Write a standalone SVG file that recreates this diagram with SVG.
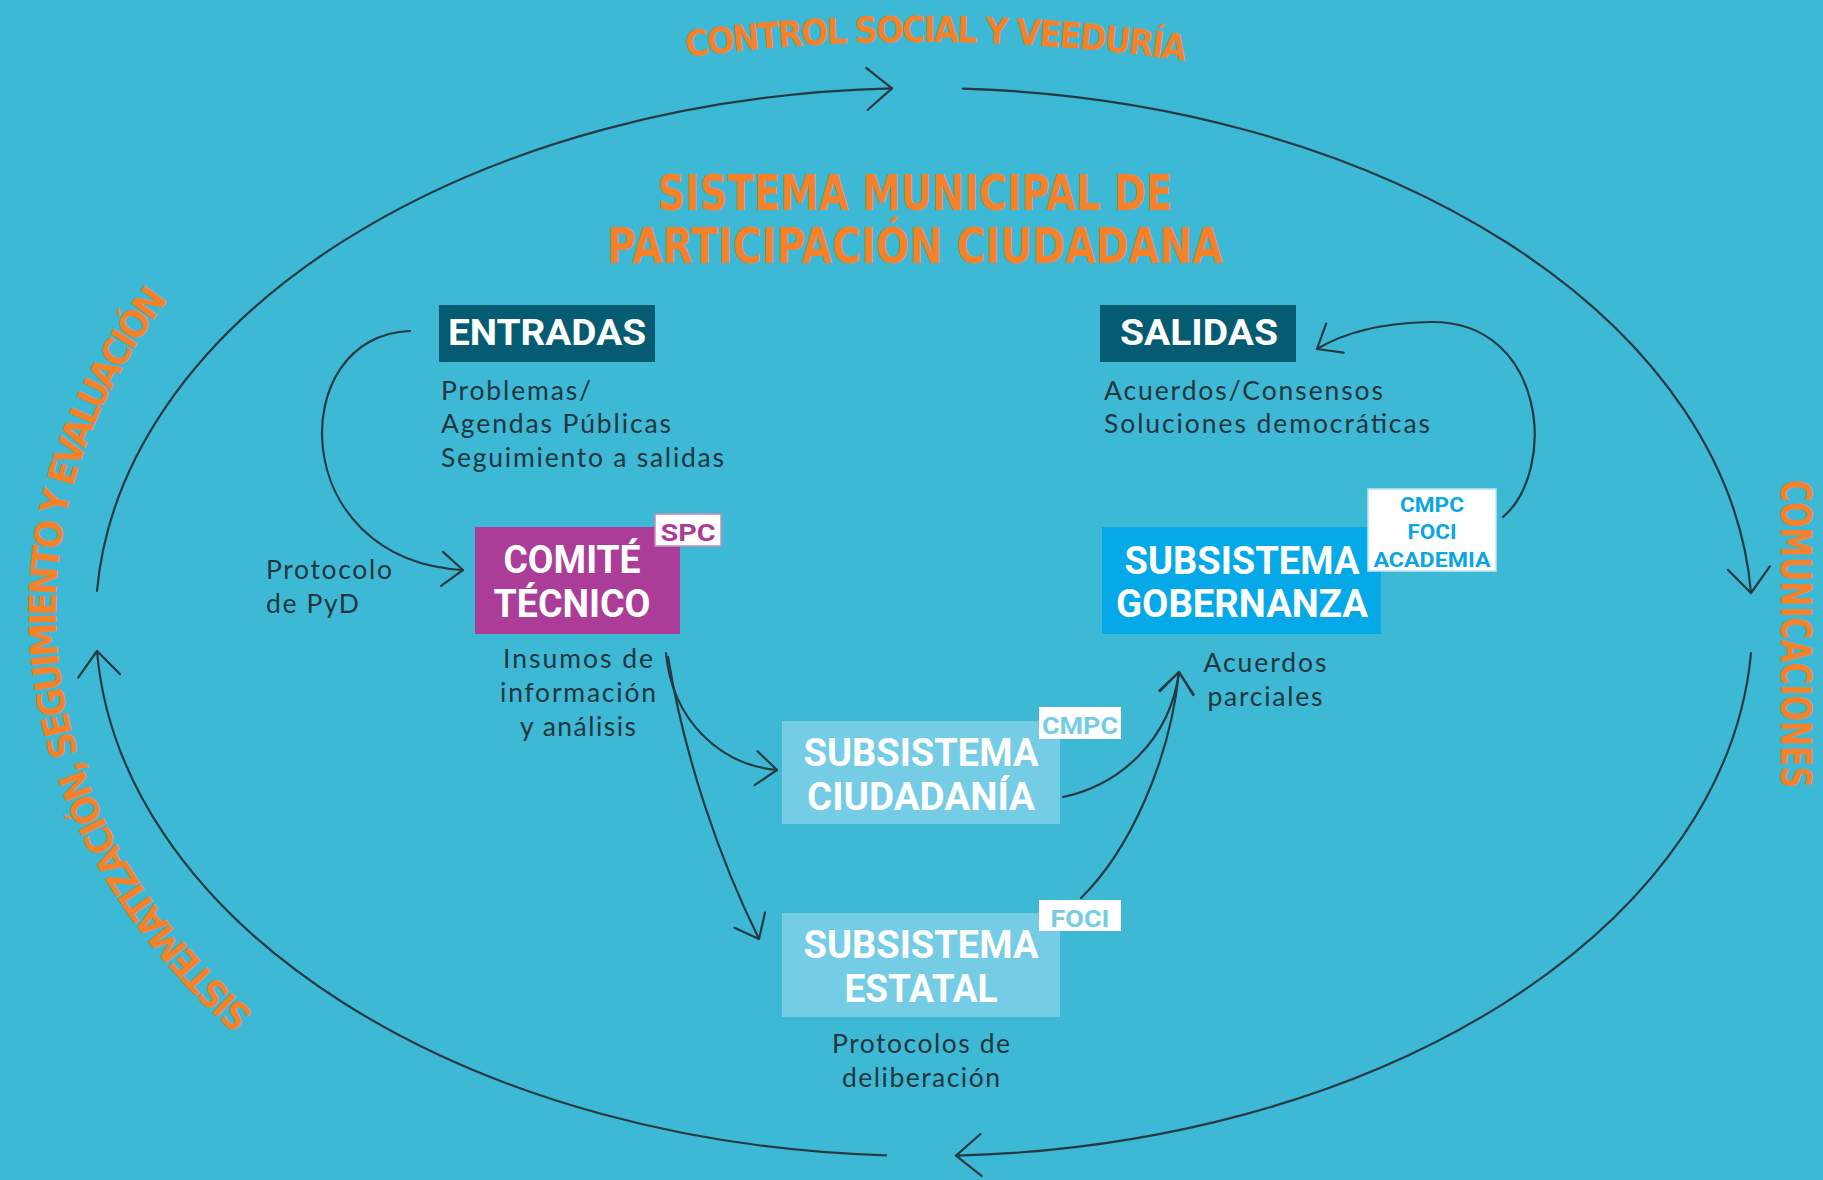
<svg xmlns="http://www.w3.org/2000/svg" width="1823" height="1180" viewBox="0 0 1823 1180">
<style>
.bg{fill:#3DB8D5}
.ln{fill:none;stroke:#263a42;stroke-width:2.2;stroke-linecap:round}
.orange{fill:#F5822A;font-family:"Liberation Sans Narrow","DejaVu Sans Condensed",Roboto,"Liberation Sans",sans-serif;font-weight:700}
.lbl{fill:#ffffff;font-family:Roboto,"Liberation Sans",sans-serif;font-weight:700;text-anchor:middle}
.body{fill:#22363e;font-family:Lato,"Open Sans","Liberation Sans",sans-serif;font-size:26.5px}
.mid{text-anchor:middle}
.tag{fill:#ffffff}
.tagt{font-family:Roboto,"Liberation Sans",sans-serif;font-weight:700;text-anchor:middle}
</style>
<defs>
<marker id="arr" viewBox="-30 -25 35 50" markerWidth="35" markerHeight="50" markerUnits="userSpaceOnUse" refX="0" refY="0" orient="auto" overflow="visible">
<path d="M -25,-21 L 0,0 L -25,21" fill="none" stroke="#263a42" stroke-width="2.2" stroke-linecap="round" stroke-linejoin="round"/>
</marker>
<marker id="arr2" viewBox="-30 -25 35 50" markerWidth="35" markerHeight="50" markerUnits="userSpaceOnUse" refX="0" refY="0" orient="auto" overflow="visible">
<path d="M -21,-17 L 0,0 L -21,17" fill="none" stroke="#263a42" stroke-width="2.2" stroke-linecap="round" stroke-linejoin="round"/>
</marker>
<path id="p-top" d="M 680,58 Q 936,24 1192,62"/>
<path id="p-left" d="M 258,1017 A 868 633 0 0 1 172,295"/>
</defs>
<rect class="bg" x="0" y="0" width="1823" height="1180"/>

<g id="cycle-labels">
<text class="orange" font-size="36"><textPath href="#p-top" startOffset="50%" text-anchor="middle" textLength="500" lengthAdjust="spacing">CONTROL SOCIAL Y VEEDURÍA</textPath></text>
<text class="orange" font-size="38"><textPath href="#p-left" startOffset="50%" text-anchor="middle" textLength="800" lengthAdjust="spacing">SISTEMATIZACIÓN, SEGUIMIENTO Y EVALUACIÓN</textPath></text>
<text class="orange" font-size="42" transform="translate(1781,634) rotate(90)" text-anchor="middle" textLength="308" lengthAdjust="spacingAndGlyphs">COMUNICACIONES</text>
</g>

<g id="title">
<text class="orange" font-size="50" x="915" y="210" text-anchor="middle" textLength="515" lengthAdjust="spacingAndGlyphs">SISTEMA MUNICIPAL DE</text>
<text class="orange" font-size="50" x="915" y="263" text-anchor="middle" textLength="616" lengthAdjust="spacingAndGlyphs">PARTICIPACIÓN CIUDADANA</text>
</g>

<g id="connectors">
<path class="ln" d="M 97,591 A 828 534 0 0 1 892,88.4" marker-end="url(#arr)"/>
<path class="ln" d="M 963,88.6 A 828 534 0 0 1 1751,593" marker-end="url(#arr)"/>
<path class="ln" d="M 1751,653 A 828 534 0 0 1 956,1155.6" marker-end="url(#arr)"/>
<path class="ln" d="M 886,1155.4 A 828 534 0 0 1 97,651" marker-end="url(#arr)"/>
<path class="ln" d="M 410,331 C 285,335 285,560 463,570" marker-end="url(#arr2)"/>
<path class="ln" d="M 666,653 C 672,720 720,765 777,770" marker-end="url(#arr2)"/>
<path class="ln" d="M 668,657 C 685,760 720,860 759,939" marker-end="url(#arr2)"/>
<path class="ln" d="M 1063,797 C 1120,785 1170,740 1179,672" marker-end="url(#arr2)"/>
<path class="ln" d="M 1081,898 C 1130,850 1170,760 1179,672" marker-end="url(#arr2)"/>
<path class="ln" d="M 1503,517 C 1558,470 1546,320 1430,322 C 1385,323 1345,332 1317,349" marker-end="url(#arr2)"/>
</g>

<g id="entradas">
<rect x="439" y="305" width="216" height="57" fill="#055C72"/>
<text class="lbl" x="547" y="345" font-size="36" textLength="198" lengthAdjust="spacingAndGlyphs">ENTRADAS</text>
<text class="body" x="441" y="400" textLength="150">Problemas/</text>
<text class="body" x="441" y="433" textLength="230">Agendas Públicas</text>
<text class="body" x="441" y="467" textLength="283">Seguimiento a salidas</text>
</g>

<g id="salidas">
<rect x="1100" y="305" width="196" height="57" fill="#055C72"/>
<text class="lbl" x="1199" y="345" font-size="36" textLength="158" lengthAdjust="spacingAndGlyphs">SALIDAS</text>
<text class="body" x="1104" y="400" textLength="279">Acuerdos/Consensos</text>
<text class="body" x="1104" y="433" textLength="326">Soluciones democráticas</text>
</g>

<g id="comite-tecnico">
<rect x="475" y="527" width="205" height="107" fill="#AB3C97"/>
<text class="lbl" x="572" y="573" font-size="38" textLength="137" lengthAdjust="spacingAndGlyphs">COMITÉ</text>
<text class="lbl" x="572" y="617" font-size="38" textLength="157" lengthAdjust="spacingAndGlyphs">TÉCNICO</text>
<rect class="tag" x="655" y="514" width="66" height="32" stroke="#c98abd" stroke-width="1.5"/>
<text class="tagt" x="688" y="541" font-size="24" fill="#AB3C97" textLength="55" lengthAdjust="spacingAndGlyphs">SPC</text>
<text class="body" x="266" y="579" textLength="126">Protocolo</text>
<text class="body" x="266" y="613" textLength="93">de PyD</text>
<text class="body mid" x="578" y="668" textLength="150">Insumos de</text>
<text class="body mid" x="578" y="702" textLength="156">información</text>
<text class="body mid" x="578" y="736" textLength="116">y análisis</text>
</g>

<g id="subsistema-gobernanza">
<rect x="1102" y="527" width="279" height="107" fill="#05A9E8"/>
<text class="lbl" x="1242" y="574" font-size="38" textLength="235" lengthAdjust="spacingAndGlyphs">SUBSISTEMA</text>
<text class="lbl" x="1242" y="617" font-size="38" textLength="252" lengthAdjust="spacingAndGlyphs">GOBERNANZA</text>
<rect class="tag" x="1368" y="489" width="128" height="82" stroke="#bfe8f5" stroke-width="1.5"/>
<text class="tagt" x="1432" y="512" font-size="21" fill="#0AA5E6" textLength="64" lengthAdjust="spacingAndGlyphs">CMPC</text>
<text class="tagt" x="1432" y="539" font-size="21" fill="#0AA5E6" textLength="49" lengthAdjust="spacingAndGlyphs">FOCI</text>
<text class="tagt" x="1432" y="567" font-size="21" fill="#0AA5E6" textLength="117" lengthAdjust="spacingAndGlyphs">ACADEMIA</text>
<text class="body mid" x="1265" y="672" textLength="123">Acuerdos</text>
<text class="body mid" x="1265" y="706" textLength="115">parciales</text>
</g>

<g id="subsistema-ciudadania">
<rect x="782" y="721" width="278" height="103" fill="#74CDE4"/>
<text class="lbl" x="921" y="766" font-size="38" textLength="235" lengthAdjust="spacingAndGlyphs">SUBSISTEMA</text>
<text class="lbl" x="921" y="810" font-size="38" textLength="228" lengthAdjust="spacingAndGlyphs">CIUDADANÍA</text>
<rect class="tag" x="1039" y="707" width="82" height="32"/>
<text class="tagt" x="1080" y="734" font-size="24" fill="#74CDE4" textLength="76" lengthAdjust="spacingAndGlyphs">CMPC</text>
</g>

<g id="subsistema-estatal">
<rect x="782" y="913" width="278" height="104" fill="#74CDE4"/>
<text class="lbl" x="921" y="958" font-size="38" textLength="235" lengthAdjust="spacingAndGlyphs">SUBSISTEMA</text>
<text class="lbl" x="921" y="1002" font-size="38" textLength="153" lengthAdjust="spacingAndGlyphs">ESTATAL</text>
<rect class="tag" x="1039" y="900" width="82" height="31"/>
<text class="tagt" x="1080" y="927" font-size="24" fill="#74CDE4" textLength="59" lengthAdjust="spacingAndGlyphs">FOCI</text>
<text class="body mid" x="921" y="1053" textLength="178">Protocolos de</text>
<text class="body mid" x="921" y="1087" textLength="158">deliberación</text>
</g>
</svg>
